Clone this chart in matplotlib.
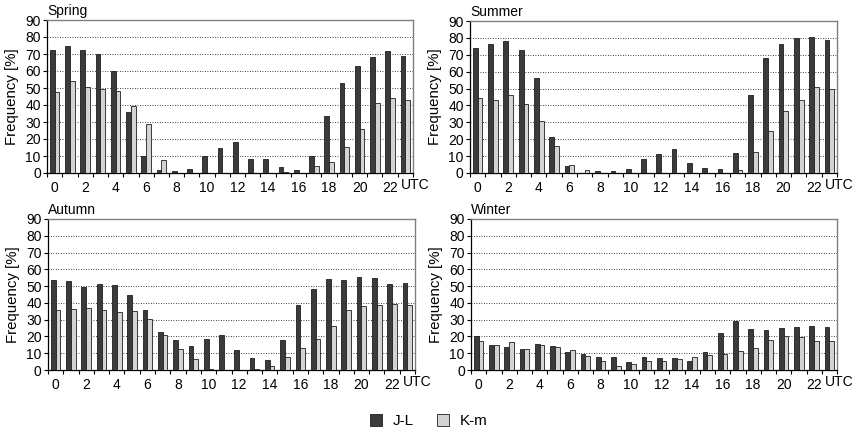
import numpy as np
import matplotlib.pyplot as plt
from matplotlib.patches import Patch
from matplotlib.transforms import blended_transform_factory

plt.rcParams['font.family'] = ['Liberation Sans', 'DejaVu Sans']
plt.rcParams['font.size'] = 8.5

hours = np.arange(24)

# Spring
spring_jl = [72.5, 74.5, 72.5, 70, 60, 36, 10, 2, 1, 2.5, 10, 14.5,
             18, 8.5, 8, 3.5, 2, 10, 33.5, 53, 63, 68.5, 72, 69]
spring_km = [47.5, 54, 50.5, 49.5, 48, 39.5, 29, 7.5, 0, 0, 0, 0,
             0, 0, 0, 0.5, 0, 4, 6.5, 15.5, 26, 41, 44, 43]
# Summer
summer_jl = [74, 76.5, 78, 73, 56.5, 21.5, 4, 0, 1, 1, 2.5, 8.5,
             11, 14, 6, 3, 2.5, 12, 46, 68, 76.5, 80, 80.5, 78.5]
summer_km = [44.5, 43, 46, 41, 31, 16, 5, 2, 0, 0, 0, 0,
             0, 0, 0, 0, 0, 1.5, 12.5, 25, 37, 43, 51, 50]
# Autumn
autumn_jl = [53.5, 53, 49.5, 51.5, 50.5, 44.5, 35.5, 22.5, 18, 14.5, 18.5, 21,
             12, 7, 6, 18, 39, 48, 54.5, 53.5, 55.5, 55, 51, 52]
autumn_km = [36, 36.5, 37, 36, 34.5, 35, 30.5, 21, 12.5, 6.5, 0.5, 0,
             0, 0.5, 2.5, 7.5, 13, 18.5, 26.5, 36, 38, 39, 39.5, 39]
# Winter
winter_jl = [20.5, 15, 13.5, 12.5, 15.5, 14.5, 10.5, 9.5, 8, 7.5, 5, 8,
             7, 7, 5.5, 11, 22, 29, 24.5, 24, 25, 25.5, 26, 25.5]
winter_km = [17.5, 15, 16.5, 12.5, 15, 14, 12, 8.5, 5.5, 2.5, 3.5, 5.5,
             5.5, 6.5, 7.5, 9, 9.5, 11.5, 13, 18, 20.5, 19.5, 17, 17.5]

panels = [
    ('Spring', spring_jl, spring_km, [47, 20, 413, 173]),
    ('Summer', summer_jl, summer_km, [470, 21, 837, 173]),
    ('Autumn', autumn_jl, autumn_km, [48, 219, 415, 370]),
    ('Winter', winter_jl, winter_km, [471, 219, 837, 370]),
]

W, H = 858, 433
dark = '#3b3b3b'
light = '#d3d3d3'
edge = '#1e1e1e'
bw = 0.31

fig = plt.figure(figsize=(W / 100, H / 100), dpi=100)

for name, jl, km, (x0, y0, x1, y1) in panels:
    ax = fig.add_axes([x0 / W, 1 - y1 / H, (x1 - x0) / W, (y1 - y0) / H])
    ax.bar(hours - bw / 2, jl, width=bw, color=dark, edgecolor=edge, linewidth=0.6, zorder=3)
    ax.bar(hours + bw / 2, km, width=bw, color=light, edgecolor=edge, linewidth=0.6, zorder=3)
    ax.set_xlim(-0.5, 23.5)
    ax.set_ylim(0, 90)
    ax.set_yticks(range(0, 91, 10))
    ax.grid(axis='y', linestyle=(0, (1, 2)), color='black', linewidth=0.6, zorder=1)
    gl = ax.yaxis.get_gridlines()
    gl[0].set_visible(False)
    gl[-1].set_visible(False)

    # category boundaries as tick marks, labels at bar groups
    ax.set_xticks(np.arange(-0.5, 24, 1))
    ax.set_xticklabels([])
    ax.set_xticks(np.arange(0, 23, 2), minor=True)
    ax.set_xticklabels([str(h) for h in range(0, 23, 2)], minor=True)
    ax.tick_params(axis='x', which='major', length=3, direction='out', width=0.8)
    ax.tick_params(axis='x', which='minor', length=0, pad=6, labelsize=10)
    ax.tick_params(axis='y', length=3, width=0.8, pad=1.5, labelsize=10)

    tr = blended_transform_factory(ax.transData, ax.transAxes)
    ax.text(23.65, -0.08, 'UTC', transform=tr, ha='center', va='center', fontsize=10)

    for s in ['left', 'bottom']:
        ax.spines[s].set_color('black')
        ax.spines[s].set_linewidth(0.9)
    for s in ['top', 'right']:
        ax.spines[s].set_color('#808080')
        ax.spines[s].set_linewidth(1.0)

    ax.set_ylabel('Frequency [%]', fontsize=10.8)
    ax.yaxis.set_label_coords(-0.077, 0.5)
    ax.text(0.0, 1.015, name, transform=ax.transAxes, ha='left', va='bottom', fontsize=10)

handles = [Patch(facecolor=dark, edgecolor=edge, linewidth=0.6, label='J-L'),
           Patch(facecolor=light, edgecolor=edge, linewidth=0.6, label='K-m')]
fig.legend(handles=handles, loc='center', bbox_to_anchor=(0.5, 1 - 421 / H), ncol=2,
           frameon=False, handlelength=0.8, handleheight=0.8, handletextpad=0.7,
           columnspacing=1.5, fontsize=11)

fig.savefig('out.png', dpi=100, facecolor='white')
